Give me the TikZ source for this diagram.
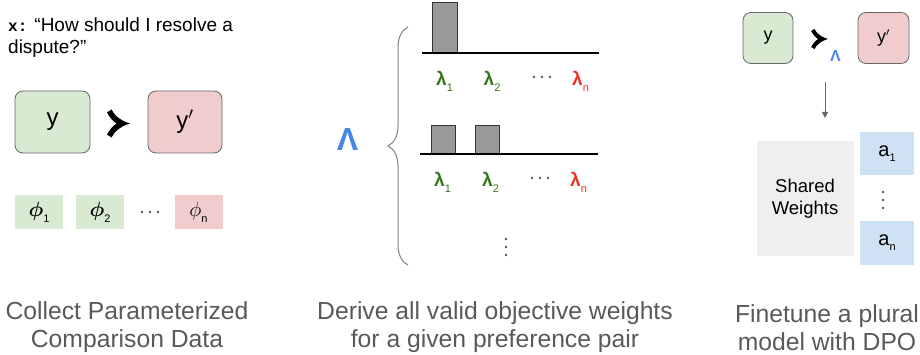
\documentclass[tikz,border=0pt]{standalone}
\usepackage{fontspec}
\usepackage{bm}
\setmainfont{Liberation Sans}
\newfontfamily\monob{Liberation Mono}
\usetikzlibrary{decorations.pathreplacing,arrows.meta}
\definecolor{gfill}{HTML}{D9EAD3}
\definecolor{rfill}{HTML}{F0CCCC}
\definecolor{bfill}{HTML}{CFE2F3}
\definecolor{swfill}{HTML}{EFEFEF}
\definecolor{lgreen}{HTML}{38761D}
\definecolor{lred}{HTML}{EA3323}
\definecolor{lblue}{HTML}{4A86E8}
\definecolor{capgray}{HTML}{595959}
\definecolor{bargray}{HTML}{999999}
\definecolor{dotgray}{HTML}{555555}
\newcommand{\lamsub}[1]{\textbf{λ}\raisebox{-6pt}{\fontsize{11}{11}\selectfont #1}}
\newcommand{\phisub}[2]{{\fontsize{22}{22}\selectfont$#1$}\raisebox{-6pt}{\fontsize{11}{11}\selectfont #2}}
\begin{document}
\begin{tikzpicture}[x=1pt,y=-1pt,
  ybox/.style={draw=black!60, line width=0.8pt, rounded corners=8pt, inner sep=0pt},
  phibox/.style={inner sep=0pt, minimum width=48pt, minimum height=34pt},
  lamlbl/.style={inner sep=0pt, anchor=base west, font=\fontsize{19}{19}\selectfont},
  bar/.style={fill=bargray, draw=black!80, line width=1pt},
  axisline/.style={draw=black, line width=1.5pt},
  caption/.style={align=center, text=capgray, font=\fontsize{24.7}{28}\selectfont, inner sep=0pt},
  dotmark/.style={fill=dotgray},
  succsym/.pic={
    \fill (-7,-14) .. controls (-4,-7.5) and (3,-2.5) .. (11.5,0)
          .. controls (3,2.5) and (-4,7.5) .. (-7,14)
          -- (-11.5,11) .. controls (-9,6) and (-5,2) .. (-2,0)
          .. controls (-5,-2) and (-9,-6) .. (-11.5,-11) -- cycle;
  }
]
\useasboundingbox (0,0) rectangle (920,355);

% ---------- left panel ----------
\node[anchor=north west, align=left, inner sep=0pt, font=\fontsize{19}{22}\selectfont] (q) at (8,18)
  {{\monob\bfseries\fontsize{16}{22}\selectfont x:} “How should I resolve a\\dispute?”};

\node[ybox, fill=gfill, minimum width=75pt, minimum height=62pt, font=\fontsize{24}{24}\selectfont] (y1) at (52.5,122) {y};
\coordinate (pref1) at (118.5,123.5);
\pic at (pref1) {succsym};
\node[ybox, fill=rfill, minimum width=74pt, minimum height=62pt, font=\fontsize{24}{24}\selectfont] (y2) at (185,122) {y$'$};

\node[phibox, fill=gfill] (phi1) at (39,212) {\phisub{\bm{\phi}}{1}};
\node[phibox, fill=gfill] (phi2) at (100,212) {\phisub{\bm{\phi}}{2}};
\coordinate (phid) at (150,212);
\foreach \dx in {-8,0,8} \fill[dotmark] ([xshift=\dx pt]phid) circle (1.3pt);
\node[phibox, fill=rfill] (phin) at (198.5,212) {\phisub{\phi}{n}};

\node[caption] (cap1) at (127,327.5) {Collect Parameterized\\Comparison Data};

% ---------- middle panel ----------
\node[inner sep=0pt, text=lblue, font=\fontsize{32}{32}\selectfont\bfseries] (bigL) at (347.5,139) {Λ};
\draw[black!50, line width=1pt, decorate, decoration={brace, amplitude=20pt, aspect=0.5}] (408,265) -- (408,27);

\draw[bar] (432,3) rectangle (457,53);
\draw[axisline] (422,53) -- (599,53);
\node[lamlbl, text=lgreen] (l11) at (436,86) {\lamsub{1}};
\node[lamlbl, text=lgreen] (l12) at (483.5,86) {\lamsub{2}};
\coordinate (l1d) at (542,77);
\foreach \dx in {-8,0,8} \fill[dotmark] ([xshift=\dx pt]l1d) circle (1.3pt);
\node[lamlbl, text=lred] (l1n) at (572,86) {\lamsub{n}};

\draw[bar] (431,126) rectangle (455,154);
\draw[bar] (475,126) rectangle (499,154);
\draw[axisline] (420,154) -- (598,154);
\node[lamlbl, text=lgreen] (l21) at (434,187) {\lamsub{1}};
\node[lamlbl, text=lgreen] (l22) at (482,187) {\lamsub{2}};
\coordinate (l2d) at (540,178);
\foreach \dx in {-8,0,8} \fill[dotmark] ([xshift=\dx pt]l2d) circle (1.3pt);
\node[lamlbl, text=lred] (l2n) at (570,187) {\lamsub{n}};

\coordinate (vd) at (506,247);
\foreach \dy in {-8,0,8} \fill[dotmark] ([yshift=\dy pt]vd) circle (1.3pt);

\node[caption] (cap2) at (495,327.5) {Derive all valid objective weights\\for a given preference pair};

% ---------- right panel ----------
\node[ybox, fill=gfill, minimum width=50pt, minimum height=51pt, font=\fontsize{18}{18}\selectfont] (y3) at (768,38) {y};
\coordinate (pref2) at (819.5,39);
\pic[scale=0.72] at (pref2) {succsym};
\node[inner sep=0pt, text=lblue, font=\fontsize{16}{16}\selectfont\bfseries] (smallL) at (835.5,56) {Λ};
\node[ybox, fill=rfill, minimum width=51pt, minimum height=51pt, font=\fontsize{18}{18}\selectfont] (y4) at (883.5,38) {y$'$};

\coordinate (arrs) at (825,82);
\node[fill=swfill, minimum width=97pt, minimum height=115pt, align=center, inner sep=0pt, font=\fontsize{18.5}{22}\selectfont] (sw) at (805,198.5) {Shared\\Weights};
\coordinate (arre) at (825,118);
\draw[black!60, line width=1pt, -{Triangle[length=6pt,width=6pt]}] (arrs) -- (arre);

\node[fill=bfill, minimum width=54pt, minimum height=43pt, inner sep=0pt, font=\fontsize{20}{20}\selectfont] (a1) at (887,153.5) {a\raisebox{-5pt}{\fontsize{11}{11}\selectfont 1}};
\coordinate (ad) at (883,200);
\foreach \dy in {-8,0,8} \fill[dotmark] ([yshift=\dy pt]ad) circle (1.3pt);
\node[fill=bfill, minimum width=54pt, minimum height=44pt, inner sep=0pt, font=\fontsize{20}{20}\selectfont] (an) at (887,243) {a\raisebox{-5pt}{\fontsize{11}{11}\selectfont n}};

\node[caption] (cap3) at (827,327.5) {Finetune a plural\\model with DPO};
\end{tikzpicture}
\end{document}
